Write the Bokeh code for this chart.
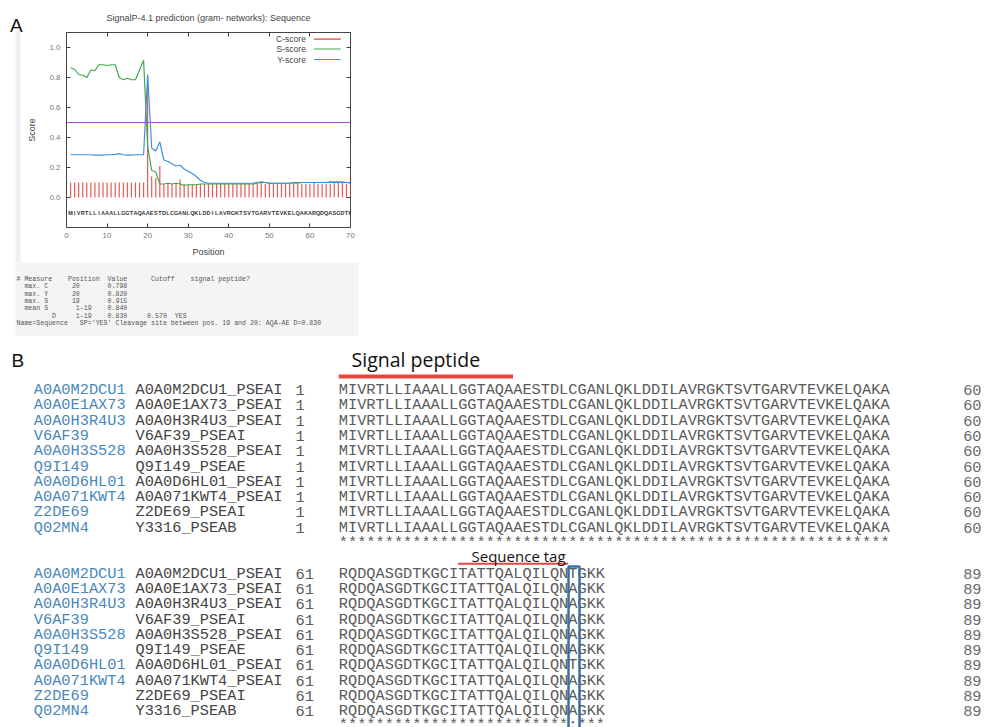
from bokeh.plotting import figure
from bokeh.models import (Range1d, LinearAxis, FixedTicker, Span, ColumnDataSource,
                          NumeralTickFormatter)
from bokeh.layouts import column, row
from bokeh.embed import file_html
from bokeh.resources import INLINE
from bokeh.core.properties import value

# ---------------- Panel A data (SignalP-4.1 scores) ----------------
positions = list(range(1, 71))
residues = list("MIVRTLLIAAALLGGTAQAAESTDLCGANLQKLDDILAVRGKTSVTGARVTEVKELQAKARQDQASGDTK")
c_score = [0.10, 0.10, 0.10, 0.10, 0.10, 0.10, 0.10, 0.10, 0.10, 0.10,
           0.10, 0.10, 0.10, 0.10, 0.10, 0.10, 0.10, 0.10, 0.10, 0.798,
           0.14, 0.13, 0.21, 0.09, 0.09, 0.09, 0.09, 0.12, 0.09, 0.09,
           0.09, 0.09, 0.09, 0.09, 0.09, 0.09, 0.09, 0.09, 0.09, 0.09,
           0.09, 0.09, 0.09, 0.09, 0.09, 0.09, 0.09, 0.10, 0.09, 0.09,
           0.09, 0.09, 0.09, 0.09, 0.09, 0.09, 0.09, 0.09, 0.09, 0.09,
           0.10, 0.09, 0.09, 0.09, 0.09, 0.10, 0.10, 0.10, 0.09, 0.10]
s_score = [0.865, 0.855, 0.82, 0.815, 0.80, 0.85, 0.845, 0.885, 0.885, 0.88,
           0.885, 0.885, 0.80, 0.785, 0.795, 0.785, 0.785, 0.85, 0.915, 0.34,
           0.18, 0.17, 0.09, 0.09, 0.095, 0.09, 0.095, 0.09, 0.08, 0.085,
           0.085, 0.085, 0.09, 0.09, 0.09, 0.09, 0.09, 0.09, 0.09, 0.09,
           0.09, 0.09, 0.09, 0.09, 0.09, 0.09, 0.095, 0.10, 0.10, 0.095,
           0.095, 0.095, 0.095, 0.095, 0.095, 0.10, 0.10, 0.10, 0.10, 0.10,
           0.10, 0.10, 0.10, 0.10, 0.105, 0.105, 0.105, 0.105, 0.10, 0.095]
y_score = [0.285, 0.285, 0.285, 0.285, 0.285, 0.285, 0.283, 0.283, 0.283, 0.285,
           0.285, 0.287, 0.292, 0.285, 0.282, 0.283, 0.285, 0.285, 0.285, 0.82,
           0.33, 0.31, 0.37, 0.25, 0.24, 0.225, 0.21, 0.215, 0.19, 0.175,
           0.16, 0.14, 0.115, 0.10, 0.095, 0.095, 0.095, 0.095, 0.095, 0.095,
           0.095, 0.095, 0.095, 0.095, 0.095, 0.095, 0.10, 0.105, 0.10, 0.095,
           0.095, 0.095, 0.095, 0.095, 0.095, 0.095, 0.095, 0.10, 0.10, 0.10,
           0.10, 0.10, 0.10, 0.10, 0.10, 0.10, 0.10, 0.10, 0.10, 0.10]
d_cutoff_line = 0.5
x_ticks = [0, 10, 20, 30, 40, 50, 60, 70]
y_ticks = [0.0, 0.2, 0.4, 0.6, 0.8, 1.0]
legend_labels = ["C-score", "S-score", "Y-score"]

summary_lines = [
    "# Measure    Position  Value      Cutoff    signal peptide?",
    "  max. C      20       0.798",
    "  max. Y      20       0.820",
    "  max. S      19       0.915",
    "  mean S       1-19    0.840",
    "         D     1-19    0.830     0.570  YES",
    "Name=Sequence   SP='YES' Cleavage site between pos. 19 and 20: AQA-AE D=0.830",
]

# ---------------- Panel B data (alignment) ----------------
ids = ["A0A0M2DCU1", "A0A0E1AX73", "A0A0H3R4U3", "V6AF39", "A0A0H3S528",
       "Q9I149", "A0A0D6HL01", "A0A071KWT4", "Z2DE69", "Q02MN4"]
names = ["A0A0M2DCU1_PSEAI", "A0A0E1AX73_PSEAI", "A0A0H3R4U3_PSEAI", "V6AF39_PSEAI",
         "A0A0H3S528_PSEAI", "Q9I149_PSEAE", "A0A0D6HL01_PSEAI", "A0A071KWT4_PSEAI",
         "Z2DE69_PSEAI", "Y3316_PSEAB"]
block1_seqs = ["MIVRTLLIAAALLGGTAQAAESTDLCGANLQKLDDILAVRGKTSVTGARVTEVKELQAKA"] * 10
block2_seqs = ["RQDQASGDTKGCITATTQALQILQNTGKK",
               "RQDQASGDTKGCITATTQALQILQNAGKK",
               "RQDQASGDTKGCITATTQALQILQNAGKK",
               "RQDQASGDTKGCITATTQALQILQNAGKK",
               "RQDQASGDTKGCITATTQALQILQNAGKK",
               "RQDQASGDTKGCITATTQALQILQNAGKK",
               "RQDQASGDTKGCITATTQALQILQNTGKK",
               "RQDQASGDTKGCITATTQALQILQNAGKK",
               "RQDQASGDTKGCITATTQALQILQNAGKK",
               "RQDQASGDTKGCITATTQALQILQNAGKK"]
block_starts = ["1", "61"]
block_ends = ["60", "89"]
consensus = ["************************************************************",
             "*************************:***"]
signal_peptide = (1, 19)
sequence_tag = (74, 85)
variable_site = 86

RED = "#e4473c"
GREEN = "#3fa84c"
BLUE = "#3f90df"
PURPLE = "#a64fd3"
NB = "\u00a0"

def blank(fig):
    fig.grid.visible = False
    fig.outline_line_color = None
    fig.border_fill_color = "white"
    return fig

# ======================= Panel label A (page x 0..24) =======================
pAL = blank(figure(width=24, height=262, x_range=Range1d(0, 24), y_range=Range1d(262, 0),
                   output_backend="svg", toolbar_location=None, x_axis_location=None,
                   y_axis_location=None, min_border=0, min_border_left=0, min_border_right=0,
                   min_border_top=0, min_border_bottom=0, frame_align=False))
pAL.quad(left=[15], right=[20], top=[30], bottom=[262], fill_color="#f1f1f1", line_color=None)
pAL.text(x=[9.5], y=[24.5], text=["A"], text_font=value("Liberation Sans"), text_font_size="19px",
         text_color="#111111", text_baseline="middle")

# ======================= Panel A chart (page x 24..368) =======================
pA = figure(width=344, height=262, x_range=Range1d(0, 70), y_range=Range1d(-0.2, 1.1),
            output_backend="svg", toolbar_location=None, frame_align=False,
            min_border_left=39, min_border_right=18, min_border_top=32, min_border_bottom=35)
pA.title.text = "SignalP-4.1 prediction (gram- networks): Sequence"
pA.title.align = "center"
pA.title.text_font_size = "9px"
pA.title.text_font_style = "normal"
pA.title.text_font = "Liberation Sans"
pA.title.text_color = "#444444"
pA.title.standoff = 19
pA.grid.visible = False
pA.outline_line_color = "#444444"
pA.background_fill_color = "white"
pA.border_fill_color = "white"

for ax in (pA.xaxis[0], pA.yaxis[0]):
    ax.axis_line_color = None
    ax.major_tick_in = 4
    ax.major_tick_out = 0
    ax.minor_tick_line_color = None
    ax.major_tick_line_color = "#444444"
    ax.major_label_text_font = "Liberation Sans"
    ax.major_label_text_font_size = "8px"
    ax.major_label_text_color = "#777777"
    ax.axis_label_text_font = "Liberation Sans"
    ax.axis_label_text_font_size = "9px"
    ax.axis_label_text_font_style = "normal"
    ax.axis_label_text_color = "#444444"
pA.xaxis.ticker = FixedTicker(ticks=x_ticks)
pA.yaxis.ticker = FixedTicker(ticks=y_ticks)
pA.yaxis.formatter = NumeralTickFormatter(format="0.0")
pA.xaxis.axis_label = "Position"
pA.yaxis.axis_label = "Score"
pA.xaxis.major_label_standoff = 5
pA.yaxis.major_label_standoff = 6
pA.xaxis.axis_label_standoff = 6
pA.yaxis.axis_label_standoff = 9

for loc, ticks in (("above", x_ticks), ("right", y_ticks)):
    ax = LinearAxis(ticker=FixedTicker(ticks=ticks),
                    major_label_overrides={t: "" for t in ticks},
                    major_label_text_font_size="1px", major_label_standoff=0,
                    major_tick_in=4, major_tick_out=0, axis_line_color=None,
                    minor_tick_line_color=None, major_tick_line_color="#444444")
    pA.add_layout(ax, loc)

src = ColumnDataSource(dict(x=positions, c=c_score, s=s_score, y=y_score, r=residues))
pA.segment(x0="x", y0=0, x1="x", y1="c", source=src, line_color="#e85a52", line_width=1.2)
pA.add_layout(Span(location=d_cutoff_line, dimension="width", line_color=PURPLE, line_width=1.2))
pA.line("x", "s", source=src, line_color=GREEN, line_width=1.2)
pA.line("x", "y", source=src, line_color=BLUE, line_width=1.2)
pA.text(x="x", y=-0.1, text="r", source=src, text_font=value("Liberation Sans"),
        text_font_size="5.5px", text_color="#333333", text_align="center",
        text_baseline="middle", text_font_style="bold")

# legend (label left of the line sample, as in gnuplot)
leg_y = [1.056, 0.990, 0.920]
pA.text(x=[59.0] * 3, y=leg_y, text=legend_labels, text_font=value("Liberation Sans"),
        text_font_size="8.5px", text_color="#444444", text_align="right",
        text_baseline="middle")
pA.segment(x0=[61.0] * 3, y0=leg_y, x1=[67.6] * 3, y1=leg_y,
           line_color=[RED, GREEN, BLUE], line_width=1.2)

# ======================= Panel A summary text (page y 262..345) =======================
pT = blank(figure(width=368, height=83, x_range=Range1d(15, 358), y_range=Range1d(7.64, -2.32),
                  output_backend="svg", toolbar_location=None, x_axis_location=None,
                  y_axis_location=None, min_border_left=15, min_border_top=0,
                  min_border_right=10, min_border_bottom=10, frame_align=False))
pT.background_fill_color = "#f4f4f4"
pT.text(x=[16] * len(summary_lines), y=list(range(len(summary_lines))),
        text=[s.replace(" ", NB) for s in summary_lines],
        text_font=value("Liberation Mono"), text_font_size="6.6px", text_color="#555555",
        text_baseline="middle", text_align="left")

# ======================= Panel B alignment (page y 345..727) =======================
CH = 9.17          # character width in px (alignment font)
SEQ0 = 338.3       # page x of first residue column
ROW0 = 389.5       # page y of first alignment row
RH = 15.3          # row height in px
pB = blank(figure(width=984, height=382,
                  x_range=Range1d((0 - SEQ0) / CH, (984 - SEQ0) / CH),
                  y_range=Range1d((727 - ROW0) / RH, (345 - ROW0) / RH),
                  output_backend="svg", toolbar_location=None, x_axis_location=None,
                  y_axis_location=None, min_border=0, min_border_left=0, min_border_right=0,
                  min_border_top=0, min_border_bottom=0, frame_align=False))

rows1 = list(range(0, 10))
rows2 = list(range(12, 22))
all_rows = rows1 + rows2
mono = value("Liberation Mono")
FS = "15.3px"

pB.text(x=(33.3 - SEQ0) / CH, y=all_rows, text=ids + ids, text_font=mono, text_font_size=FS,
        text_color="#4a88ba", text_baseline="middle")
pB.text(x=(135 - SEQ0) / CH, y=all_rows, text=names + names, text_font=mono, text_font_size=FS,
        text_color="#444444", text_baseline="middle")
pB.text(x=(295 - SEQ0) / CH, y=all_rows,
        text=[block_starts[0]] * 10 + [block_starts[1]] * 10, text_font=mono,
        text_font_size=FS, text_color="#5a5a5a", text_baseline="middle")
pB.text(x=0, y=all_rows, text=block1_seqs + block2_seqs, text_font=mono, text_font_size=FS,
        text_color="#5a5a5a", text_baseline="middle")
pB.text(x=(981 - SEQ0) / CH, y=all_rows,
        text=[block_ends[0]] * 10 + [block_ends[1]] * 10, text_font=mono,
        text_font_size=FS, text_color="#6a6a6a", text_baseline="middle", text_align="right")
pB.text(x=0, y=[10, 21.9], text=consensus, text_font=mono, text_font_size=FS,
        text_color="#5a5a5a", text_baseline="middle")

# panel label
pB.text(x=(11 - SEQ0) / CH, y=(360 - ROW0) / RH, text=["B"], text_font=value("Liberation Sans"),
        text_font_size="19px", text_color="#111111", text_baseline="middle")

# signal peptide annotation
sp0, sp1 = signal_peptide
pB.segment(x0=sp0 - 1, y0=(376 - ROW0) / RH, x1=sp1, y1=(376 - ROW0) / RH,
           line_color=RED, line_width=4)
pB.text(x=8.4, y=(358.5 - ROW0) / RH, text=["Signal peptide"], text_font=value("Open Sans"),
        text_font_size="19.5px", text_color="#111111", text_align="center",
        text_baseline="middle")

# sequence tag annotation
tg0, tg1 = sequence_tag
pB.segment(x0=tg0 - 61, y0=(563.3 - ROW0) / RH, x1=tg1 - 60, y1=(563.3 - ROW0) / RH,
           line_color=RED, line_width=2)
pB.text(x=19.6, y=(555 - ROW0) / RH, text=["Sequence tag"], text_font=value("Open Sans"),
        text_font_size="15px", text_color="#111111", text_align="center",
        text_baseline="middle")

# variable site box
vc = variable_site - 61
pB.quad(left=vc + 0.05, right=vc + 1.25, top=(566 - ROW0) / RH, bottom=24.5,
        fill_color=None, line_color="#3c6da6", line_width=2.5)

layout = column(row(pAL, pA, spacing=0), pT, pB, spacing=0)
open("out.html", "w").write(file_html(layout, INLINE))
